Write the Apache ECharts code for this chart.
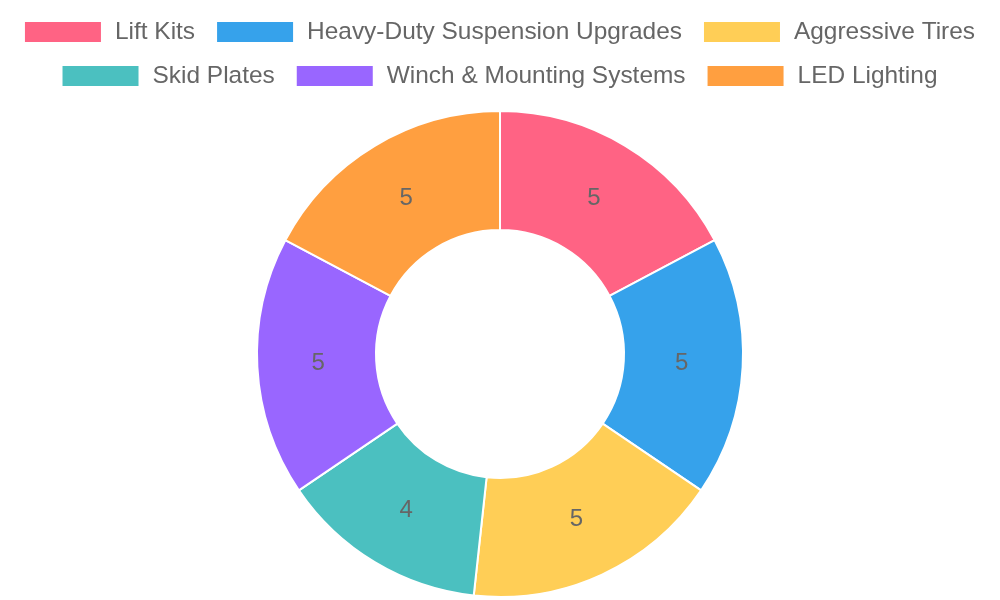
<!DOCTYPE html>
<html><head><meta charset="utf-8">
<script src="https://cdn.jsdelivr.net/npm/echarts@6/dist/echarts.min.js"></script>
<style>html,body{margin:0;padding:0;background:#fff}#c{width:1000px;height:600px}</style>
</head><body><div id="c"></div>
<script>
const categories = ["Lift Kits","Heavy-Duty Suspension Upgrades","Aggressive Tires","Skid Plates","Winch & Mounting Systems","LED Lighting"];
const values = [5,5,5,4,5,5];
const colors = ["#FF6384","#36A2EB","#FFCE56","#4BC0C0","#9966FF","#FF9F40"];
const row1 = categories.slice(0,3);
const row2 = categories.slice(3);
const chart = echarts.init(document.getElementById('c'));
const legendBase = {
  orient:'horizontal', left:'center', itemWidth:76, itemHeight:20, itemGap:22,
  icon:'rect', selectedMode:true,
  textStyle:{fontFamily:'Liberation Sans, Arial', fontSize:24.45, color:'#666', padding:[0,0,0,9]},
  itemStyle:{borderWidth:0}
};
const pieData = categories.map((n,i)=>({name:n, value:values[i]}));
chart.setOption({
  animation:false,
  color: colors,
  legend:[
    Object.assign({}, legendBase, {top:15, data:row1}),
    Object.assign({}, legendBase, {top:59, data:row2})
  ],
  series:[{
    type:'pie',
    center:[500,354],
    radius:[124,243],
    startAngle:90,
    clockwise:true,
    itemStyle:{borderColor:'#fff', borderWidth:2},
    label:{show:false},
    labelLine:{show:false},
    emphasis:{scale:false},
    data: pieData
  },{
    type:'pie',
    center:[500,354],
    radius:[124,234],
    startAngle:90,
    clockwise:true,
    silent:true,
    itemStyle:{color:'rgba(0,0,0,0)', borderWidth:0},
    label:{show:true, position:'inside', formatter:'{c}', fontFamily:'Liberation Sans, Arial', fontSize:24, color:'#666'},
    labelLine:{show:false},
    emphasis:{disabled:true},
    data: pieData
  }]
});
</script></body></html>
